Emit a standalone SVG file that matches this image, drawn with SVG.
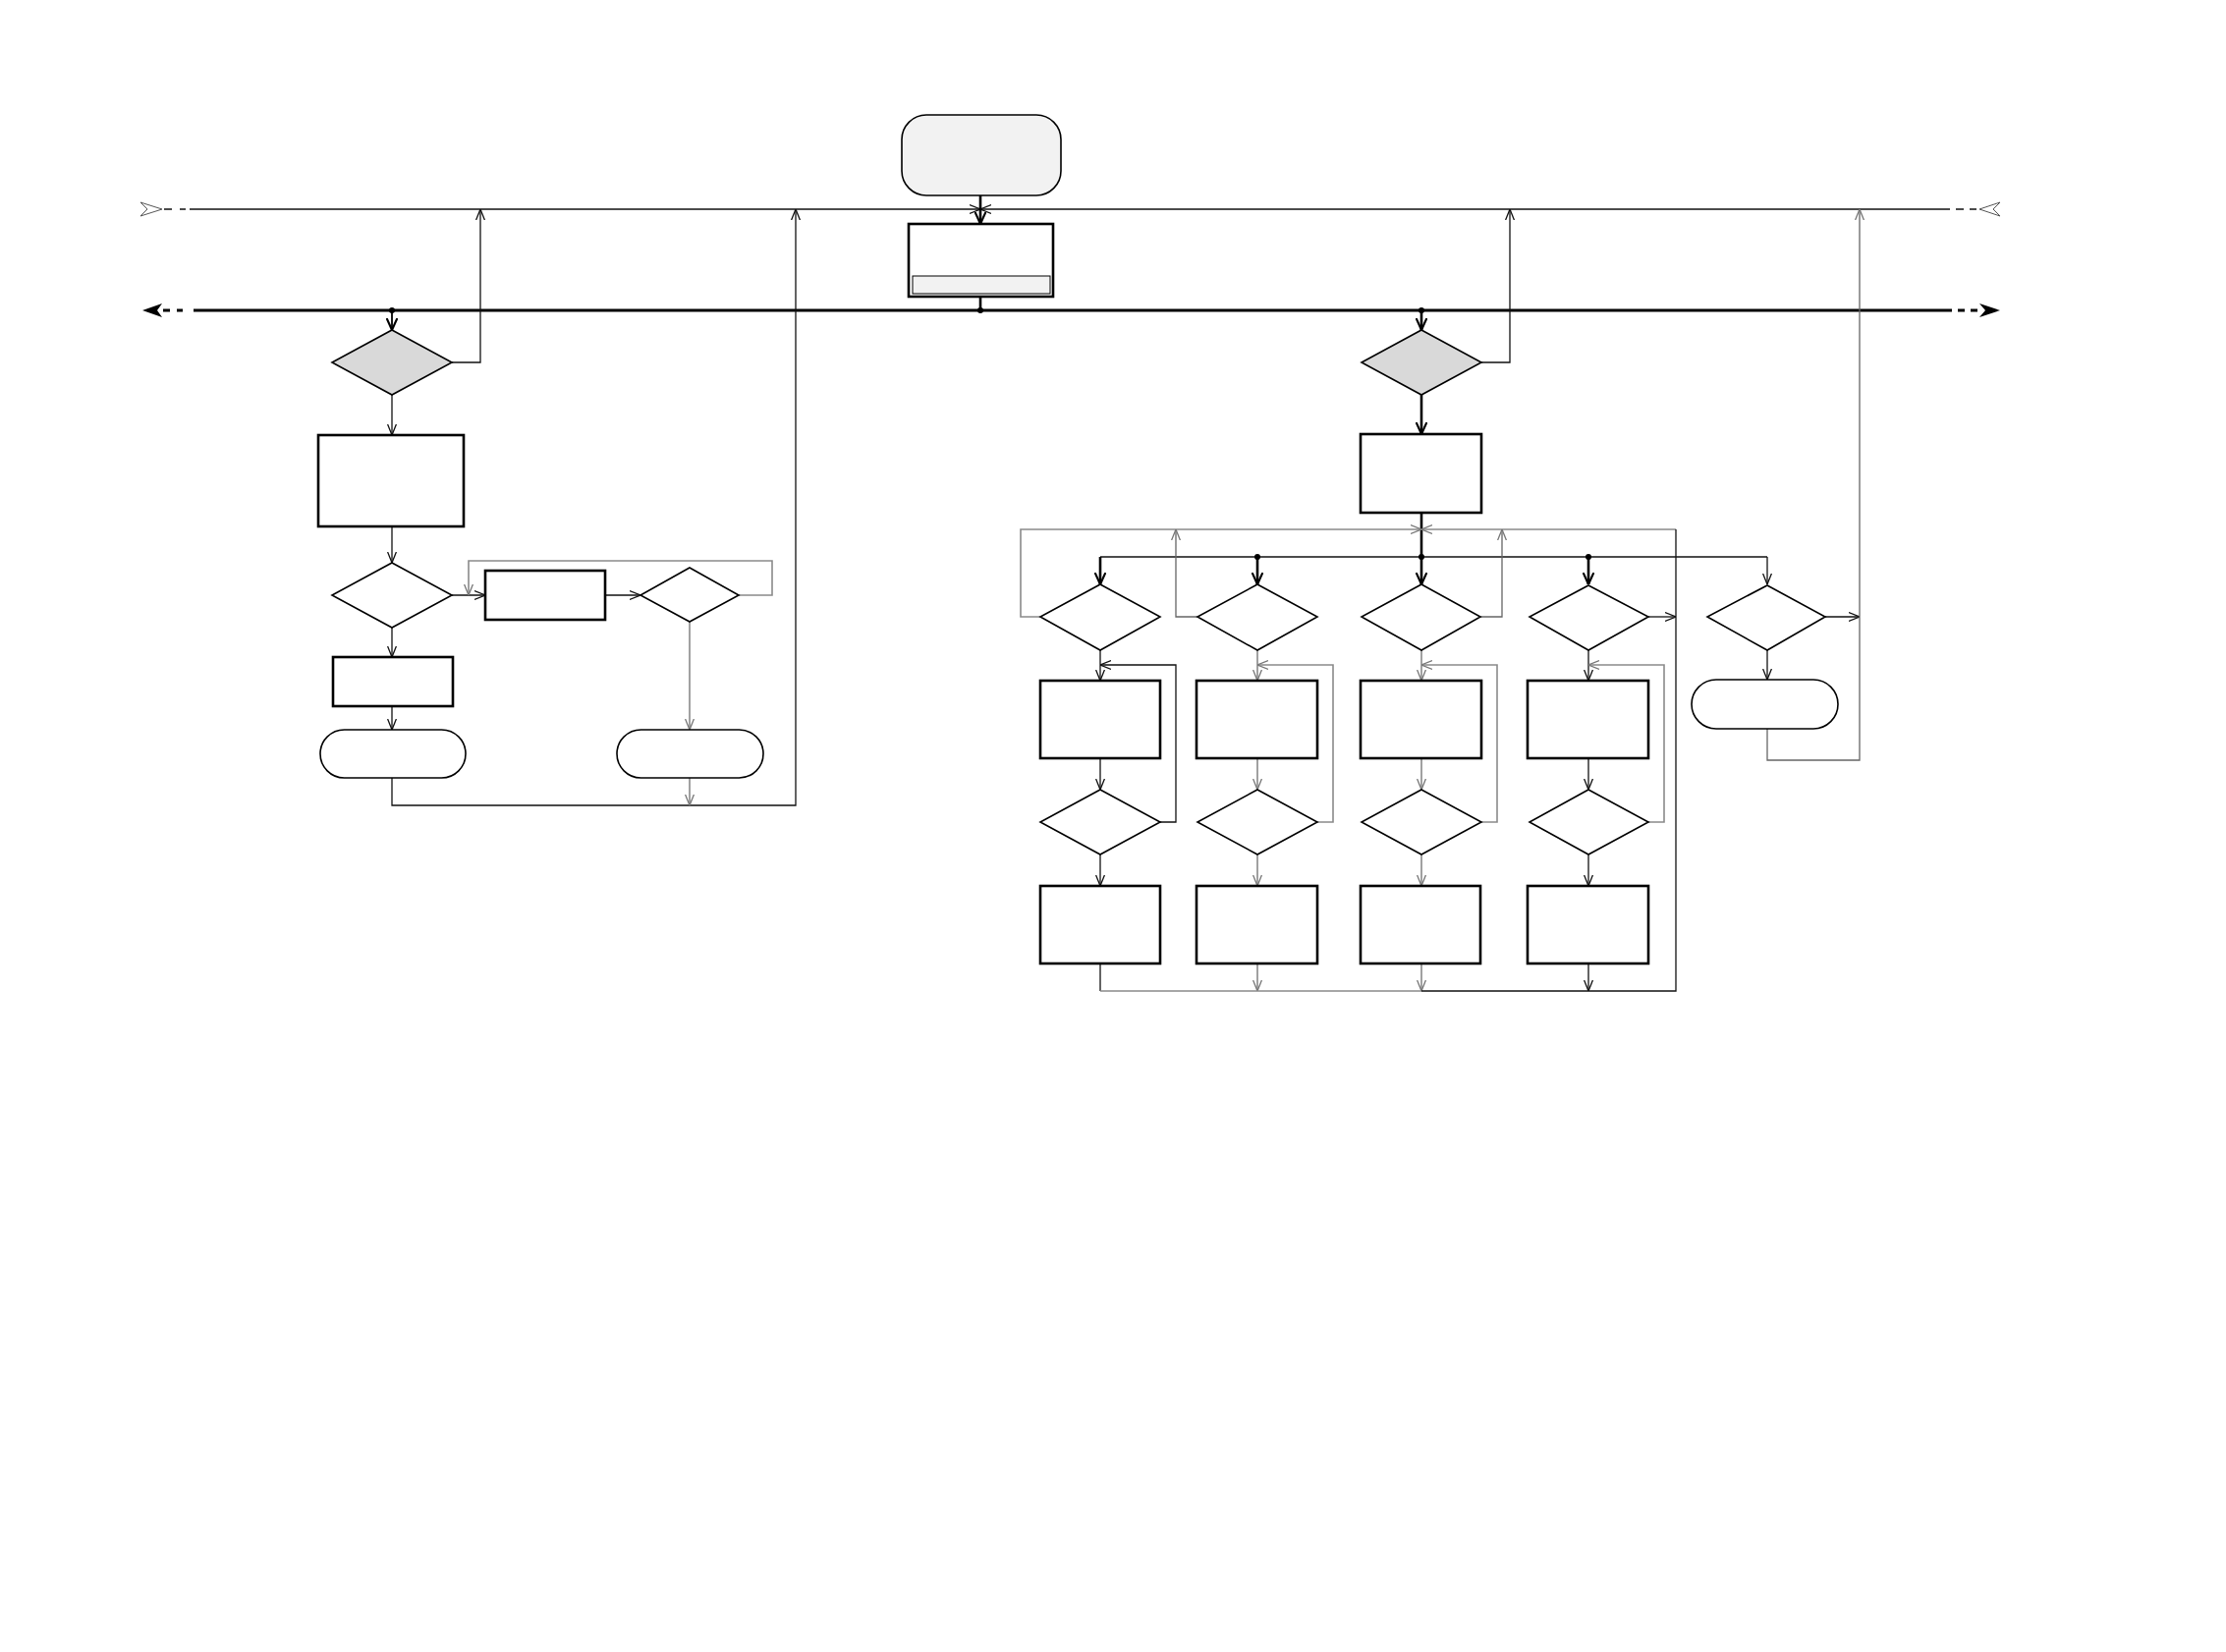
<svg xmlns="http://www.w3.org/2000/svg" width="2266" height="1682" viewBox="0 0 2266 1682">
<style>
.n{fill:#fff;stroke:#000;stroke-width:1.6}
.t{fill:#fff;stroke:#000;stroke-width:2.6}
.g{fill:#d9d9d9;stroke:#000;stroke-width:1.6}
.k{fill:none;stroke:#111;stroke-width:1.3}
.kt{fill:none;stroke:#000;stroke-width:2.6}
.y{fill:none;stroke:#8a8a8a;stroke-width:1.6}
.y2{fill:none;stroke:#666;stroke-width:1.3}
</style>
<defs>
<marker id="ak" viewBox="0 0 10 10" refX="10" refY="5" markerWidth="11" markerHeight="11" markerUnits="userSpaceOnUse" orient="auto"><path d="M0,1 L10,5 L0,9" fill="none" stroke="#111" stroke-width="1.2"/></marker>
<marker id="ay" viewBox="0 0 10 10" refX="10" refY="5" markerWidth="11" markerHeight="11" markerUnits="userSpaceOnUse" orient="auto"><path d="M0,1 L10,5 L0,9" fill="none" stroke="#777" stroke-width="1.2"/></marker>
<marker id="at" viewBox="0 0 10 10" refX="10" refY="5" markerWidth="12" markerHeight="12" markerUnits="userSpaceOnUse" orient="auto"><path d="M0,0.5 L10,5 L0,9.5" fill="none" stroke="#000" stroke-width="1.8"/></marker>
</defs>

<g id="connectors">
<!-- top thin line -->
<path class="k" d="M167,213 H175 M183,213 H189"/>
<path class="k" d="M193,213 H998" marker-end="url(#ak)"/>
<path class="k" d="M1985,213 H998" marker-end="url(#ak)"/>
<path class="k" d="M1991,213 H1999 M2005,213 H2012"/>
<polygon points="165,213 143,206 150,213 143,220" fill="#fff" stroke="#555" stroke-width="1"/>
<polygon points="2015,213 2036,206 2029,213 2036,220" fill="#fff" stroke="#555" stroke-width="1"/>
<!-- bus -->
<path fill="none" stroke="#000" stroke-width="3" d="M197,316 H1987"/>
<path fill="none" stroke="#000" stroke-width="3" d="M166,316 H173 M180,316 H186 M1993,316 H2000 M2006,316 H2013"/>
<polygon points="145,316 165,309 160,316 165,323" fill="#000"/>
<polygon points="2036,316 2015,309 2021,316 2015,323" fill="#000"/>
<circle cx="399" cy="316" r="3"/>
<circle cx="998" cy="316" r="3"/>
<circle cx="1447" cy="316" r="3"/>

<!-- center -->
<path class="kt" d="M998,199 V228" marker-end="url(#at)"/>
<path class="kt" d="M998,302 V316"/>

<!-- left section -->
<path fill="none" stroke="#000" stroke-width="1.8" d="M399,316 V336" marker-end="url(#at)"/>
<path class="k" d="M460,369 H489 V213" marker-end="url(#ak)"/>
<path class="k" d="M399,402 V443" marker-end="url(#ak)"/>
<path class="k" d="M399,536 V573" marker-end="url(#ak)"/>
<path class="k" d="M460,606 H494" marker-end="url(#ak)"/>
<path class="k" d="M616,606 H652" marker-end="url(#ak)"/>
<path class="y" d="M752,606 H786 V571 H477 V606" marker-end="url(#ay)"/>
<path class="k" d="M399,639 V669" marker-end="url(#ak)"/>
<path class="k" d="M399,719 V743" marker-end="url(#ak)"/>
<path class="y" d="M702,633 V743" marker-end="url(#ay)"/>
<path class="k" d="M399,792 V820 H810 V213" marker-end="url(#ak)"/>
<path class="y" d="M702,792 V820" marker-end="url(#ay)"/>

<!-- right section -->
<path class="kt" d="M1447,316 V336" marker-end="url(#at)"/>
<path class="k" d="M1508,369 H1537 V213" marker-end="url(#ak)"/>
<path class="kt" d="M1447,402 V442" marker-end="url(#at)"/>
<path class="kt" d="M1447,522 V595" marker-end="url(#at)"/>
<path class="y" d="M1059,628 H1039 V539 H1447" marker-end="url(#ay)"/>
<path class="y" d="M1706,539 H1447" marker-end="url(#ay)"/>
<path class="k" d="M1120,567 H1799"/>
<circle cx="1280" cy="567" r="3"/>
<circle cx="1447" cy="567" r="3"/>
<circle cx="1617" cy="567" r="3"/>
<path class="kt" d="M1120,567 V595" marker-end="url(#at)"/>
<path class="kt" d="M1280,567 V595" marker-end="url(#at)"/>
<path class="kt" d="M1617,567 V595" marker-end="url(#at)"/>
<path class="k" d="M1799,567 V595" marker-end="url(#ak)"/>
<path class="y2" d="M1219,628 H1197 V539" marker-end="url(#ay)"/>
<path class="y2" d="M1507,628 H1529 V539" marker-end="url(#ay)"/>
<path class="k" d="M1678,628 H1706" marker-end="url(#ak)"/>
<path class="k" d="M1858,628 H1893" marker-end="url(#ak)"/>
<path class="k" d="M1799,662 V692" marker-end="url(#ak)"/>
<path class="y2" d="M1799,742 V774 H1893 V213" marker-end="url(#ay)"/>

<!-- column A -->
<path class="k" d="M1120,662 V693" marker-end="url(#ak)"/>
<path class="k" d="M1181,837 H1197 V677 H1120" marker-end="url(#ak)"/>
<path class="k" d="M1120,772 V804" marker-end="url(#ak)"/>
<path class="k" d="M1120,870 V902" marker-end="url(#ak)"/>
<!-- column B -->
<path class="y" d="M1280,662 V693" marker-end="url(#ay)"/>
<path class="y" d="M1341,837 H1357 V677 H1280" marker-end="url(#ay)"/>
<path class="y" d="M1280,772 V804" marker-end="url(#ay)"/>
<path class="y" d="M1280,870 V902" marker-end="url(#ay)"/>
<path class="y" d="M1280,981 V1009" marker-end="url(#ay)"/>
<!-- column C -->
<path class="y" d="M1447,662 V693" marker-end="url(#ay)"/>
<path class="y" d="M1508,837 H1524 V677 H1447" marker-end="url(#ay)"/>
<path class="y" d="M1447,772 V804" marker-end="url(#ay)"/>
<path class="y" d="M1447,870 V902" marker-end="url(#ay)"/>
<path class="y" d="M1447,981 V1009" marker-end="url(#ay)"/>
<!-- column D -->
<path class="k" d="M1617,662 V693" marker-end="url(#ak)"/>
<path class="y" d="M1678,837 H1694 V677 H1617" marker-end="url(#ay)"/>
<path class="k" d="M1617,772 V804" marker-end="url(#ak)"/>
<path class="k" d="M1617,870 V902" marker-end="url(#ak)"/>
<path class="k" d="M1617,981 V1009" marker-end="url(#ak)"/>
<!-- bottom collector -->
<path class="k" d="M1120,981 V1009"/>
<path class="y" d="M1120,1009 H1447"/>
<path class="k" d="M1447,1009 H1706 V539"/>
</g>

<g id="start"><rect x="918" y="117" width="162" height="82" rx="25" fill="#f2f2f2" stroke="#000" stroke-width="1.6"/></g>
<g id="init"><rect class="t" x="925" y="228" width="147" height="74"/><rect x="929" y="281" width="140" height="18" fill="#f2f2f2" stroke="#000" stroke-width="1"/></g>

<g id="l-dec1"><polygon class="g" points="399,336 460,369 399,402 338,369"/></g>
<g id="l-box1"><rect class="t" x="324" y="443" width="148" height="93"/></g>
<g id="l-dec2"><polygon class="n" points="399,573 460,606 399,639 338,606"/></g>
<g id="l-box2"><rect class="t" x="494" y="581" width="122" height="50"/></g>
<g id="l-dec3"><polygon class="n" points="702,578 752,606 702,633 652,606"/></g>
<g id="l-box3"><rect class="t" x="339" y="669" width="122" height="50"/></g>
<g id="l-endA"><rect class="n" x="326" y="743" width="148" height="49" rx="24.5"/></g>
<g id="l-endB"><rect class="n" x="628" y="743" width="149" height="49" rx="24.5"/></g>

<g id="r-dec1"><polygon class="g" points="1447,336 1508,369 1447,402 1386,369"/></g>
<g id="r-box1"><rect class="t" x="1385" y="442" width="123" height="80"/></g>

<g id="a-dec1"><polygon class="n" points="1120,595 1181,628 1120,662 1059,628"/></g>
<g id="a-box1"><rect class="t" x="1059" y="693" width="122" height="79"/></g>
<g id="a-dec2"><polygon class="n" points="1120,804 1181,837 1120,870 1059,837"/></g>
<g id="a-box2"><rect class="t" x="1059" y="902" width="122" height="79"/></g>

<g id="b-dec1"><polygon class="n" points="1280,595 1341,628 1280,662 1219,628"/></g>
<g id="b-box1"><rect class="t" x="1218" y="693" width="123" height="79"/></g>
<g id="b-dec2"><polygon class="n" points="1280,804 1341,837 1280,870 1219,837"/></g>
<g id="b-box2"><rect class="t" x="1218" y="902" width="123" height="79"/></g>

<g id="c-dec1"><polygon class="n" points="1447,595 1507,628 1447,662 1386,628"/></g>
<g id="c-box1"><rect class="t" x="1385" y="693" width="123" height="79"/></g>
<g id="c-dec2"><polygon class="n" points="1447,804 1508,837 1447,870 1386,837"/></g>
<g id="c-box2"><rect class="t" x="1385" y="902" width="122" height="79"/></g>

<g id="d-dec1"><polygon class="n" points="1617,596 1678,628 1617,662 1557,628"/></g>
<g id="d-box1"><rect class="t" x="1555" y="693" width="123" height="79"/></g>
<g id="d-dec2"><polygon class="n" points="1617,804 1678,837 1617,870 1557,837"/></g>
<g id="d-box2"><rect class="t" x="1555" y="902" width="123" height="79"/></g>

<g id="e-dec"><polygon class="n" points="1799,596 1858,628 1799,662 1738,628"/></g>
<g id="e-end"><rect class="n" x="1722" y="692" width="149" height="50" rx="25"/></g>
</svg>
